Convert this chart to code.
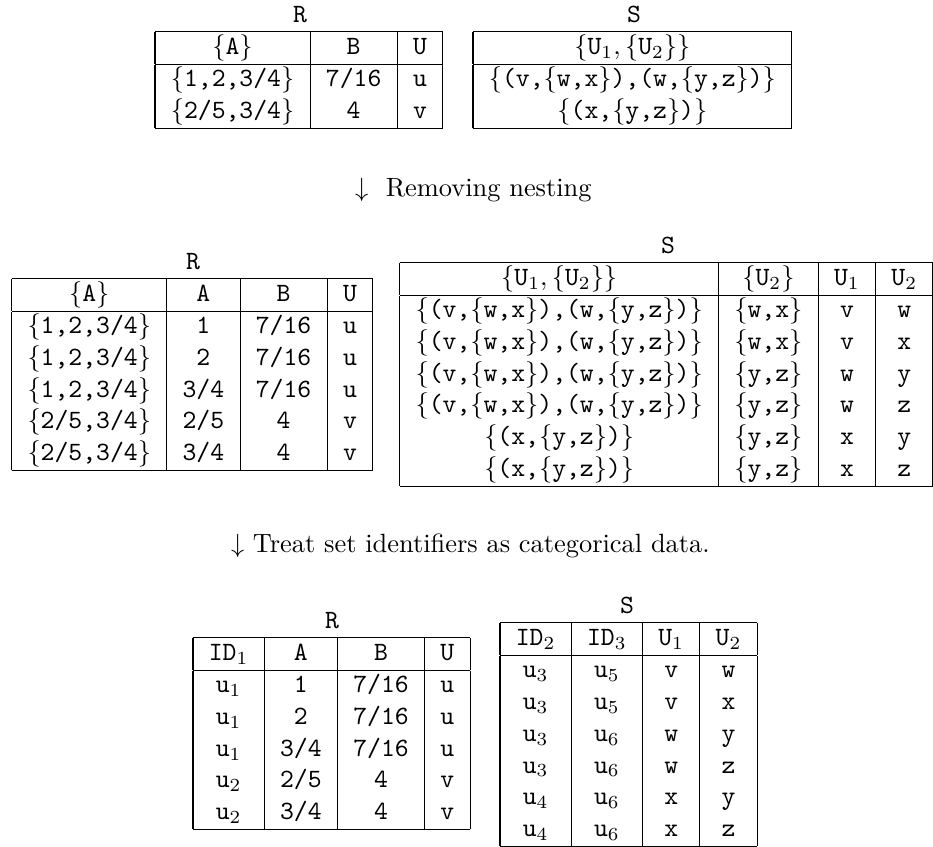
\documentclass[border=0pt]{standalone}
\usepackage{pgfplots}
\pgfplotsset{compat=1.18}
\newcommand\lb{\ensuremath{\{}}
\newcommand\rb{\ensuremath{\}}}
\newcommand\T[1]{\texttt{#1}}
\newcommand\bigS{\lb\T{(v,}\lb\T{w,x}\rb\T{),(w,}\lb\T{y,z}\rb\T{)}\rb}
\newcommand\smallS{\lb\T{(x,}\lb\T{y,z}\rb\T{)}\rb}
\newcommand\UU{$\{\mathtt{U}_1,\{\mathtt{U}_2\}\}$}
\begin{document}
\begin{tikzpicture}[x=0.3788pt,y=-0.3788pt,every node/.style={inner sep=0pt,outer sep=0pt}]
\useasboundingbox (0,0) rectangle (933,847);
% ---------------- top ----------------
\node at (300,14.5) {\T{R}};
\node[anchor=north west] at (155,31) {%
\begin{tabular}{|c|c|c|}\hline
\lb\T{A}\rb & \T{B} & \T{U}\\\hline
\lb\T{1,2,3/4}\rb & \T{7/16} & \T{u}\\
\lb\T{2/5,3/4}\rb & \T{4} & \T{v}\\\hline
\end{tabular}};
\node at (634,14.5) {\T{S}};
\node[anchor=north west] at (473,31) {%
\begin{tabular}{|c|}\hline
\UU\\\hline
\bigS\\
\smallS\\\hline
\end{tabular}};
\node[anchor=base west] at (355,197) {$\downarrow$~~Removing nesting};
% ---------------- middle ----------------
\node at (193,262) {\T{R}};
\node[anchor=north west] at (11.7,278) {%
\begin{tabular}{|c|c|c|c|}\hline
\lb\T{A}\rb & \T{A} & \T{B} & \T{U}\\\hline
\lb\T{1,2,3/4}\rb & \T{1} & \T{7/16} & \T{u}\\
\lb\T{1,2,3/4}\rb & \T{2} & \T{7/16} & \T{u}\\
\lb\T{1,2,3/4}\rb & \T{3/4} & \T{7/16} & \T{u}\\
\lb\T{2/5,3/4}\rb & \T{2/5} & \T{4} & \T{v}\\
\lb\T{2/5,3/4}\rb & \T{3/4} & \T{4} & \T{v}\\\hline
\end{tabular}};
\node at (668,245.5) {\T{S}};
\node[anchor=north east] at (933,262) {%
\begin{tabular}{|c|c|c|c|}\hline
\UU & \lb\T{U}$_2$\rb & \T{U}$_1$ & \T{U}$_2$\\\hline
\bigS & \lb\T{w,x}\rb & \T{v} & \T{w}\\
\bigS & \lb\T{w,x}\rb & \T{v} & \T{x}\\
\bigS & \lb\T{y,z}\rb & \T{w} & \T{y}\\
\bigS & \lb\T{y,z}\rb & \T{w} & \T{z}\\
\smallS & \lb\T{y,z}\rb & \T{x} & \T{y}\\
\smallS & \lb\T{y,z}\rb & \T{x} & \T{z}\\\hline
\end{tabular}};
\node[anchor=base west] at (231,553) {$\downarrow$ Treat set identifiers as categorical data.};
% ---------------- bottom ----------------
\node at (332,620.5) {\T{R}};
\node[anchor=north west] at (193,637) {%
\begin{tabular}{|c|c|c|c|}\hline
\T{ID}$_1$ & \T{A} & \T{B} & \T{U}\\\hline
\T{u}$_1$ & \T{1} & \T{7/16} & \T{u}\\
\T{u}$_1$ & \T{2} & \T{7/16} & \T{u}\\
\T{u}$_1$ & \T{3/4} & \T{7/16} & \T{u}\\
\T{u}$_2$ & \T{2/5} & \T{4} & \T{v}\\
\T{u}$_2$ & \T{3/4} & \T{4} & \T{v}\\\hline
\end{tabular}};
\node at (627,605.5) {\T{S}};
\node[anchor=north west] at (500,622) {%
\begin{tabular}{|c|c|c|c|}\hline
\T{ID}$_2$ & \T{ID}$_3$ & \T{U}$_1$ & \T{U}$_2$\\\hline
\T{u}$_3$ & \T{u}$_5$ & \T{v} & \T{w}\\
\T{u}$_3$ & \T{u}$_5$ & \T{v} & \T{x}\\
\T{u}$_3$ & \T{u}$_6$ & \T{w} & \T{y}\\
\T{u}$_3$ & \T{u}$_6$ & \T{w} & \T{z}\\
\T{u}$_4$ & \T{u}$_6$ & \T{x} & \T{y}\\
\T{u}$_4$ & \T{u}$_6$ & \T{x} & \T{z}\\\hline
\end{tabular}};
\end{tikzpicture}
\end{document}
